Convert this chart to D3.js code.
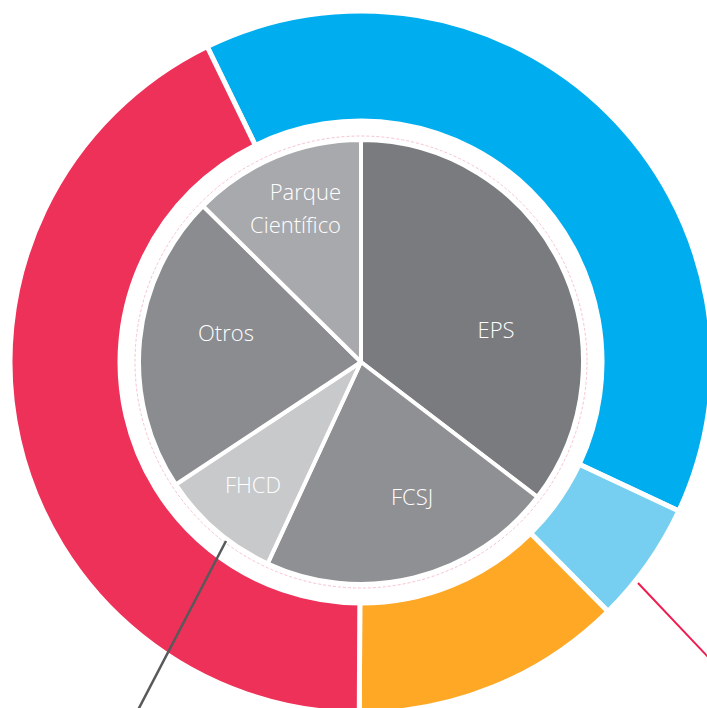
<!DOCTYPE html>
<html>
<head>
<meta charset="utf-8">
<script src="https://cdn.jsdelivr.net/npm/d3@7"></script>
<style>
  html, body { margin: 0; padding: 0; background: #fff; }
  svg { display: block; }
</style>
</head>
<body>
<script>
// ---- Data ----
const innerCategories = ["EPS", "FCSJ", "FHCD", "Otros", "Parque Científico"];
const innerValues = [35.4, 21.5, 8.8, 21.7, 12.6];
const innerColors = ["#7a7b7f", "#8f9094", "#c8c9cb", "#8b8c90", "#a8a9ac"];

const outerCategories = ["Segmento 1", "Segmento 2", "Segmento 3", "Segmento 4"];
const outerValues = [39.2, 5.6, 12.5, 42.7];
const outerColors = ["#00aeef", "#76cff0", "#fea826", "#ee3158"];

// ---- Layout ----
const W = 707, H = 708;
const cx = 361, cy = 362;
const pieR = 222;
const ringInner = 241, ringOuter = 351;
const outerStartDeg = -26;

const svg = d3.select("body").append("svg")
  .attr("width", W).attr("height", H)
  .style("background", "#fff");

const g = svg.append("g").attr("transform", `translate(${cx},${cy})`);
const rad = d => d * Math.PI / 180;

// Outer ring
const outerPie = d3.pie().sort(null).value(d => d)
  .startAngle(rad(outerStartDeg)).endAngle(rad(outerStartDeg + 360));
const outerArc = d3.arc().innerRadius(ringInner).outerRadius(ringOuter);
g.selectAll("path.outer").data(outerPie(outerValues)).join("path")
  .attr("class", "outer")
  .attr("d", outerArc)
  .attr("fill", (d, i) => outerColors[i])
  .attr("stroke", "#fff").attr("stroke-width", 5);

// Thin pink circle around pie
g.append("circle").attr("r", 226)
  .attr("fill", "none")
  .attr("stroke", "#f5b3c6").attr("stroke-width", 0.8)
  .attr("stroke-dasharray", "3,2");

// Inner pie
const innerPie = d3.pie().sort(null).value(d => d);
const innerArc = d3.arc().innerRadius(0).outerRadius(pieR);
g.selectAll("path.inner").data(innerPie(innerValues)).join("path")
  .attr("class", "inner")
  .attr("d", innerArc)
  .attr("fill", (d, i) => innerColors[i])
  .attr("stroke", "#fff").attr("stroke-width", 4).attr("stroke-linejoin", "round");

// Labels (positions relative to centre)
const labelPos = [
  { dx: 135, dy: -24, anchor: "middle" },
  { dx: 51, dy: 143, anchor: "middle" },
  { dx: -108, dy: 131, anchor: "middle" },
  { dx: -135, dy: -21, anchor: "middle" },
  { dx: -20, dy: -162, anchor: "end" }
];
innerCategories.forEach((name, i) => {
  const p = labelPos[i];
  const t = g.append("text")
    .attr("x", p.dx).attr("y", p.dy)
    .attr("text-anchor", p.anchor)
    .attr("fill", "#fff")
    .attr("font-family", "'Open Sans', sans-serif")
    .attr("font-weight", 300)
    .attr("font-size", 22);
  const parts = name.split(" ");
  if (parts.length > 1) {
    parts.forEach((w, k) => t.append("tspan").attr("x", p.dx).attr("dy", k === 0 ? 0 : 33).text(w));
  } else {
    t.text(name);
  }
});

// Leader lines
g.append("line")
  .attr("x1", -135).attr("y1", 179).attr("x2", -223).attr("y2", 348)
  .attr("stroke", "#58595b").attr("stroke-width", 2.5);
g.append("line")
  .attr("x1", 277).attr("y1", 221).attr("x2", 349).attr("y2", 297)
  .attr("stroke", "#ee1c4f").attr("stroke-width", 2);
</script>
</body>
</html>
